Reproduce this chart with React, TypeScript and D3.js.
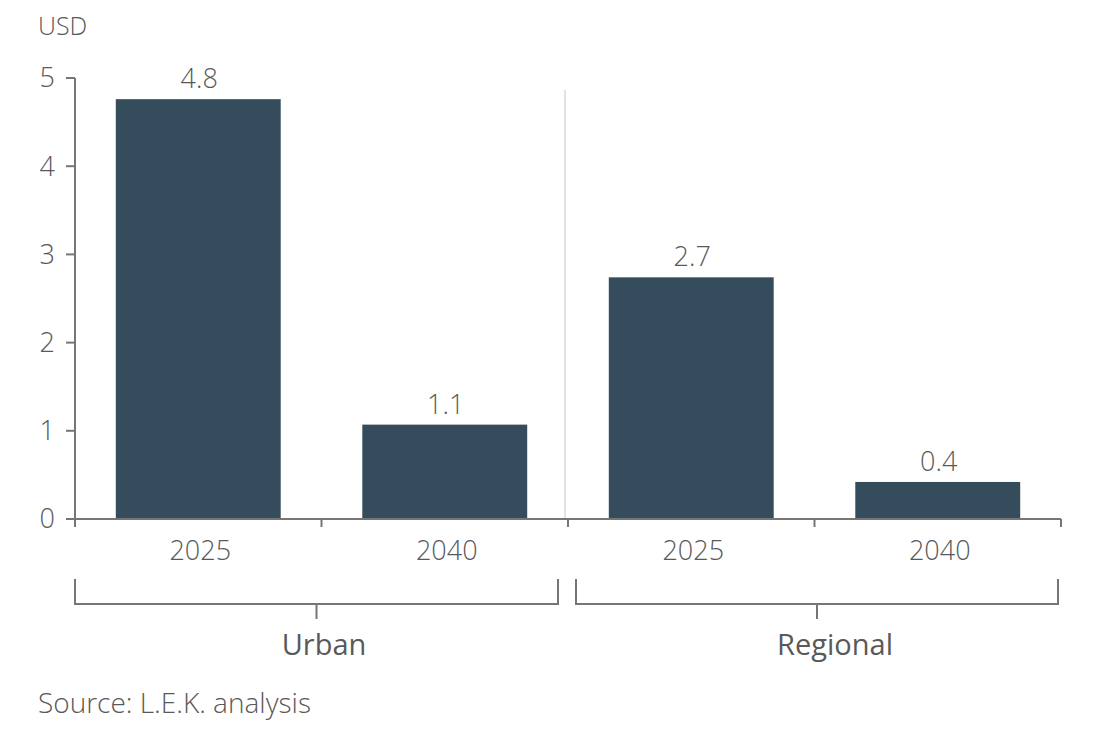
import React from 'react';
import * as d3 from 'd3';

const categories = ['Urban|2025', 'Urban|2040', 'Regional|2025', 'Regional|2040'];
const years = ['2025', '2040', '2025', '2040'];
const groups = ['Urban', 'Regional'];
const values = [4.76, 1.07, 2.74, 0.42];
const labels = ['4.8', '1.1', '2.7', '0.4'];
const yTicks = [0, 1, 2, 3, 4, 5];

const W = 1120;
const H = 751;
const margin = { left: 75, right: 59, top: 78, bottom: 232 };
const axisColor = '#767676';
const textColor = '#595959';
const barColor = '#344c5b';
const font = '"Open Sans", "Noto Sans", sans-serif';
// group label nudges (label is not exactly over the bracket tick)
const groupLabelShift = [7.5, 18];

const App = () => {
  const x = d3.scaleBand<string>()
    .domain(categories)
    .range([margin.left, W - margin.right])
    .paddingInner(0.331)
    .paddingOuter(0.1655);

  const y = d3.scaleLinear()
    .domain([0, 5])
    .range([H - margin.bottom, margin.top]);

  const step = x.step();
  const x0 = margin.left;
  const y0 = y(0);
  // boundaries between bands
  const bounds = d3.range(categories.length + 1).map(i => x0 + i * step);
  const sepX = bounds[2] - 3;

  const bracketTop = 579;
  const bracketY = 604;
  const groupSpans = [
    [bounds[0], bounds[2] - 10],
    [bounds[2] + 8, bounds[4] - 3],
  ];

  return (
    <svg width={W} height={H} style={{ display: 'block', position: 'absolute', left: 0, top: 0 }}
      fontFamily={font} fontWeight={300}>
      <rect width={W} height={H} fill="#fff" />
      <text x={38} y={35} fontSize={25} fill={textColor}>USD</text>

      {/* separator */}
      <line x1={sepX} x2={sepX} y1={90} y2={y0} stroke="#d9d9d9" strokeWidth={1.5} />

      {/* bars */}
      {categories.map((c, i) => (
        <g key={c}>
          <rect x={x(c)} y={y(values[i])} width={x.bandwidth()} height={y0 - y(values[i])} fill={barColor} />
          <text x={(x(c) as number) + x.bandwidth() / 2 + 1} y={y(values[i]) - 11} textAnchor="middle"
            fontSize={27} fill={textColor}>{labels[i]}</text>
          <text x={(x(c) as number) + x.bandwidth() / 2 + 2} y={560} textAnchor="middle"
            fontSize={27} fill={textColor}>{years[i]}</text>
        </g>
      ))}

      {/* y axis */}
      <line x1={x0} x2={x0} y1={y(5)} y2={y0} stroke={axisColor} strokeWidth={2} />
      {yTicks.map(t => (
        <g key={t}>
          <line x1={x0 - 9} x2={x0} y1={y(t)} y2={y(t)} stroke={axisColor} strokeWidth={2} />
          <text x={x0 - 20} y={y(t)} dy="0.35em" textAnchor="end" fontSize={27} fill={textColor}>{t}</text>
        </g>
      ))}

      {/* x axis */}
      <line x1={x0} x2={bounds[4]} y1={y0} y2={y0} stroke={axisColor} strokeWidth={2} />
      {bounds.map((b, i) => (
        <line key={i} x1={b} x2={b} y1={y0} y2={y0 + 8} stroke={axisColor} strokeWidth={2} />
      ))}

      {/* group brackets */}
      {groups.map((g, i) => {
        const [a, b] = groupSpans[i];
        const mid = (a + b) / 2;
        return (
          <g key={g}>
            <path d={`M${a},${bracketTop}V${bracketY}H${b}V${bracketTop}`} fill="none"
              stroke={axisColor} strokeWidth={2} />
            <line x1={mid} x2={mid} y1={bracketY} y2={bracketY + 15} stroke={axisColor} strokeWidth={2} />
            <text x={mid + groupLabelShift[i]} y={655} textAnchor="middle" fontSize={29} fontWeight={500}
              fill={textColor}>{g}</text>
          </g>
        );
      })}

      <text x={38} y={713} fontSize={28} fill={textColor}>Source: L.E.K. analysis</text>
    </svg>
  );
};

export default App;
